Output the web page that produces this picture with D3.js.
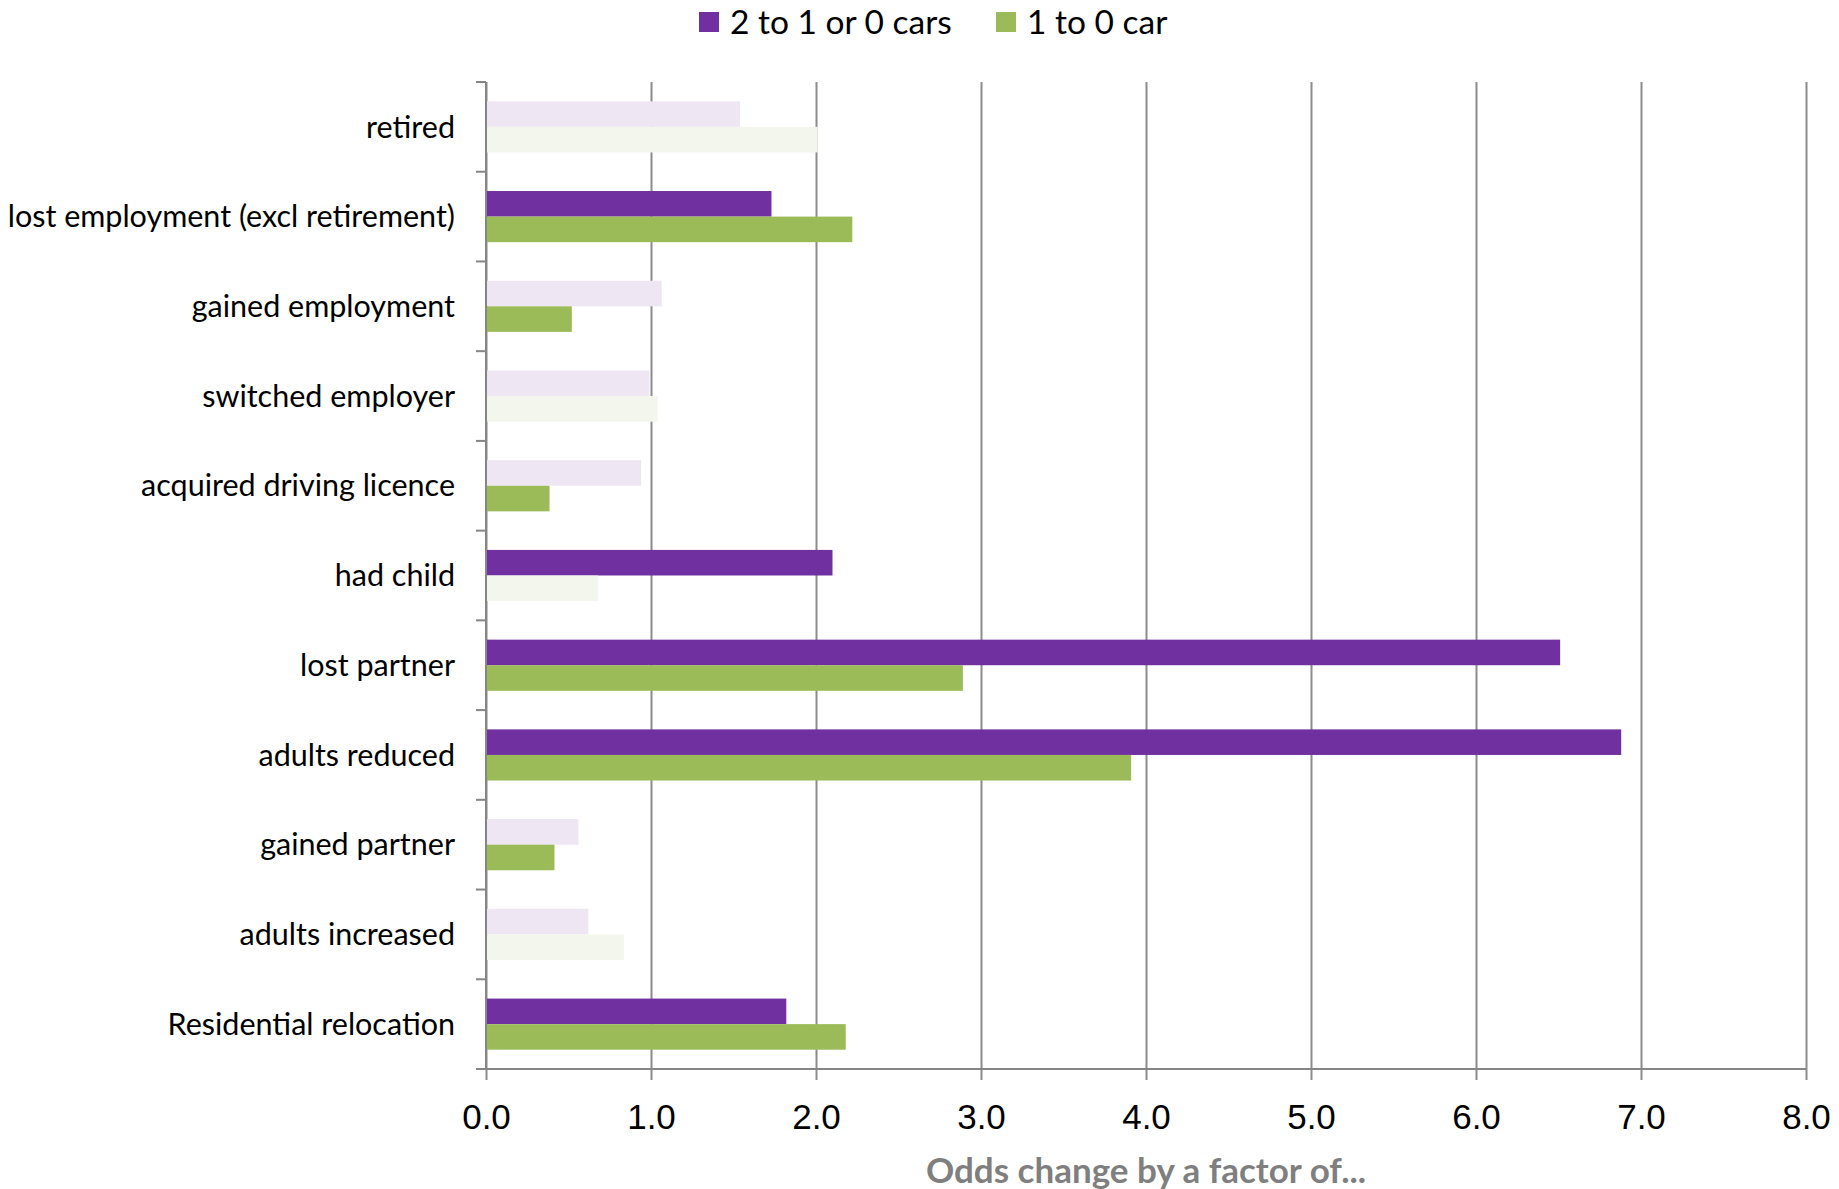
<!DOCTYPE html>
<html>
<head>
<meta charset="utf-8">
<script src="https://cdn.jsdelivr.net/npm/d3@7"></script>
<style>
  body { margin: 0; background: #fff; }
  svg { display: block; font-family: Lato, "Open Sans", sans-serif; }
</style>
</head>
<body>
<div id="chart"></div>
<script>
// categories top -> bottom
const categories = [
  "retired",
  "lost employment (excl retirement)",
  "gained employment",
  "switched employer",
  "acquired driving licence",
  "had child",
  "lost partner",
  "adults reduced",
  "gained partner",
  "adults increased",
  "Residential relocation"
];
const seriesNames = ["2 to 1 or 0 cars", "1 to 0 car"];
const cars2to1 = [1.54, 1.73, 1.065, 0.99, 0.94, 2.10, 6.51, 6.88, 0.56, 0.62, 1.82];
const cars1to0 = [2.01, 2.22, 0.52, 1.04, 0.385, 0.68, 2.89, 3.91, 0.415, 0.835, 2.18];
// solid = significant, faded = not
const sig2to1 = [false, true, false, false, false, true, true, true, false, false, true];
const sig1to0 = [false, true, true, false, true, false, true, true, true, false, true];
const xTicks = [0, 1, 2, 3, 4, 5, 6, 7, 8];

const colors = { solid: ["#7030A0", "#9BBB59"], faded: ["#EEE6F3", "#F3F6EC"] };

const W = 1839, H = 1189;
const margin = { top: 82, right: 33, bottom: 120, left: 486 };
const width = W - margin.left - margin.right;
const height = H - margin.top - margin.bottom;

const svg = d3.select("#chart").append("svg")
  .attr("width", W)
  .attr("height", H);

const g = svg.append("g")
  .attr("transform", `translate(${margin.left},${margin.top})`);

const x = d3.scaleLinear().domain([0, 8]).range([0, width]);
const y = d3.scaleBand().domain(categories).range([0, height])
  .paddingInner(0.43).paddingOuter(0.215);
const ySub = d3.scaleBand().domain([0, 1]).range([0, y.bandwidth()]);

// x axis + gridlines
const xAxis = g.append("g")
  .attr("transform", `translate(0,${height})`)
  .call(d3.axisBottom(x).tickValues(xTicks).tickSize(11).tickFormat(d3.format(".1f")));
xAxis.select(".domain").remove();
xAxis.selectAll(".tick line")
  .attr("y1", -height)
  .attr("stroke", "#8c8c8c")
  .attr("stroke-width", 2);
xAxis.selectAll(".tick text")
  .attr("y", 48)
  .attr("dy", "0.35em")
  .attr("fill", "#000")
  .style("font-size", "35px");

// bars
const rows = categories.map((c, i) => ({
  cat: c,
  vals: [
    { s: 0, v: cars2to1[i], sig: sig2to1[i] },
    { s: 1, v: cars1to0[i], sig: sig1to0[i] }
  ]
}));

const rowG = g.selectAll(".row")
  .data(rows)
  .join("g")
  .attr("class", "row")
  .attr("transform", d => `translate(0,${y(d.cat)})`);

rowG.selectAll("rect")
  .data(d => d.vals)
  .join("rect")
  .attr("x", x(0))
  .attr("y", d => ySub(d.s))
  .attr("width", d => x(d.v) - x(0))
  .attr("height", ySub.bandwidth())
  .attr("fill", d => d.sig ? colors.solid[d.s] : colors.faded[d.s]);

// y axis: line + ticks at band boundaries
const half = y.step() * y.paddingInner() / 2;
const bounds = categories.map(c => y(c) - half).concat([height]);
g.append("line")
  .attr("x1", 0).attr("x2", 0)
  .attr("y1", 0).attr("y2", height)
  .attr("stroke", "#868686").attr("stroke-width", 2);
g.append("line")
  .attr("x1", -10).attr("x2", width)
  .attr("y1", height).attr("y2", height)
  .attr("stroke", "#868686").attr("stroke-width", 2);
g.selectAll(".ytick")
  .data(bounds)
  .join("line")
  .attr("class", "ytick")
  .attr("x1", -10).attr("x2", 0)
  .attr("y1", d => d).attr("y2", d => d)
  .attr("stroke", "#868686").attr("stroke-width", 2);

g.selectAll(".ylabel")
  .data(categories)
  .join("text")
  .attr("class", "ylabel")
  .attr("x", -31)
  .attr("y", d => y(d) + y.bandwidth() / 2)
  .attr("dy", "0.35em")
  .attr("text-anchor", "end")
  .style("font-size", "30.5px")
  .text(d => d);

// axis title
svg.append("text")
  .attr("x", margin.left + width / 2)
  .attr("y", 1171)
  .attr("dy", "0.35em")
  .attr("text-anchor", "middle")
  .attr("fill", "#7f7f7f")
  .style("font-size", "35px")
  .style("font-weight", "bold")
  .text("Odds change by a factor of...");

// legend
const legendX = [699, 996];
const legend = svg.selectAll(".legend")
  .data(seriesNames)
  .join("g")
  .attr("class", "legend")
  .attr("transform", (d, i) => `translate(${legendX[i]},12)`);
legend.append("rect")
  .attr("width", 20).attr("height", 20)
  .attr("fill", (d, i) => colors.solid[i]);
legend.append("text")
  .attr("x", 31)
  .attr("y", 10)
  .attr("dy", "0.35em")
  .style("font-size", "33.5px")
  .text(d => d);
</script>
</body>
</html>
